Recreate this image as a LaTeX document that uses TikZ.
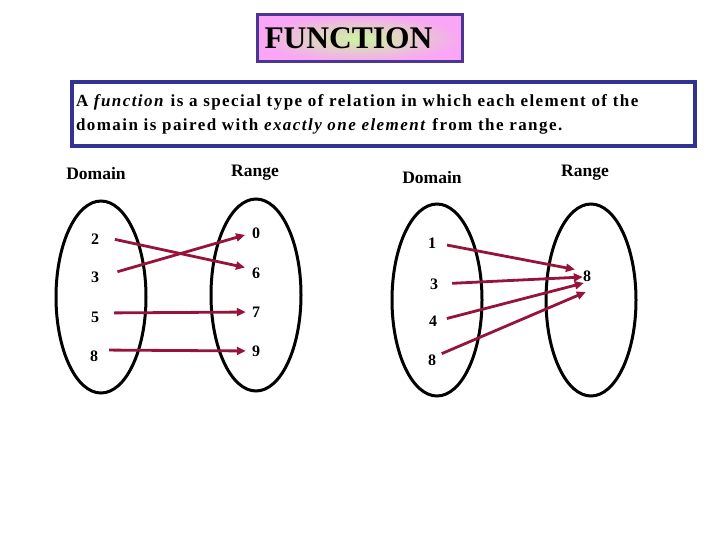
\documentclass[tikz,border=0pt]{standalone}
\usepackage{fontspec}
\setmainfont{Liberation Serif}
\usetikzlibrary{arrows.meta,shapes.geometric}
\definecolor{arrowred}{RGB}{150,20,60}
\definecolor{titleborder}{RGB}{75,55,145}
\definecolor{titlepink}{RGB}{250,165,245}
\definecolor{titlegreen}{RGB}{205,245,160}
\definecolor{defborder}{RGB}{50,50,145}
\tikzset{
  oval/.style={draw=black, line width=3pt, ellipse, minimum width=90pt, minimum height=192pt},
  num/.style={font=\fontsize{16}{16}\selectfont\bfseries, inner sep=0pt},
  head/.style={font=\fontsize{17.5}{17.5}\selectfont\bfseries, inner sep=0pt},
  arr/.style={draw=arrowred, line width=2.8pt, -{Triangle[length=9pt,width=8pt]}},
}
\begin{document}
\begin{tikzpicture}[x=1pt,y=-1pt]
\useasboundingbox (0,0) rectangle (720,540);
% title
\node[draw=titleborder, line width=3pt, inner color=titlegreen, outer color=titlepink,
      minimum width=205pt, minimum height=47pt, text width=190pt, align=left,
      inner xsep=7pt, font=\fontsize{31.5}{31.5}\selectfont\bfseries] (title) at (359.5,38.5) {FUNCTION};
% definition
\node[draw=defborder, line width=4pt, fill=white, minimum width=623pt, minimum height=64pt,
      text width=615pt, align=left, inner xsep=4pt,
      font=\fontsize{17}{24}\selectfont\bfseries\addfontfeature{LetterSpace=8.5}] (def) at (383.5,114)
  {A \textit{function} is a special type of relation in which each element of the\\
   domain is paired with \textit{exactly one element} from the range.};
% ellipses
\node[oval] (e1) at (101,297) {};
\node[oval] (e2) at (256,295) {};
\node[oval] (e3) at (437,300) {};
\node[oval] (e4) at (591,300) {};
% headings
\node[head] (h1) at (96,174) {Domain};
\node[head] (h2) at (255,173) {Range};
\node[head] (h3) at (432,178) {Domain};
\node[head] (h4) at (585,173) {Range};
% left mapping
\node[num] (a2) at (95,239) {2};
\node[num] (a3) at (95,277) {3};
\node[num] (a5) at (95,317) {5};
\node[num] (a8) at (94,356) {8};
\node[num] (b0) at (256,233) {0};
\node[num] (b6) at (256,273) {6};
\node[num] (b7) at (256,312) {7};
\node[num] (b9) at (256,351) {9};
% right mapping
\node[num] (c1) at (432,243) {1};
\node[num] (c3) at (434,284) {3};
\node[num] (c4) at (433,321) {4};
\node[num] (c8) at (432,360) {8};
\node[num] (d8) at (587,276) {8};
% arrows
\draw[arr, shorten <=16pt, shorten >=7pt] ([yshift=3pt]a2.east) -- ([yshift=4pt]b6.west);
\draw[arr, shorten <=19pt, shorten >=7pt] (a3.east) -- (b0.west);
\draw[arr, shorten <=15pt, shorten >=6pt] ([yshift=4pt]a5.east) -- (b7.west);
\draw[arr, shorten <=11pt, shorten >=6pt] ([yshift=6pt]a8.east) -- (b9.west);
\draw[arr, shorten <=11pt, shorten >=8pt] (c1.east) -- ([yshift=5pt]d8.west);
\draw[arr, shorten <=14pt, shorten >=0pt] (c3.east) -- ([yshift=-1pt]d8.west);
\draw[arr, shorten <=10pt, shorten >=0pt] (c4.east) -- ([xshift=1pt,yshift=-7pt]d8.west);
\draw[arr, shorten <=6pt, shorten >=0pt] ([yshift=4pt]c8.east) -- ([xshift=3pt,yshift=-16pt]d8.west);
\end{tikzpicture}
\end{document}
